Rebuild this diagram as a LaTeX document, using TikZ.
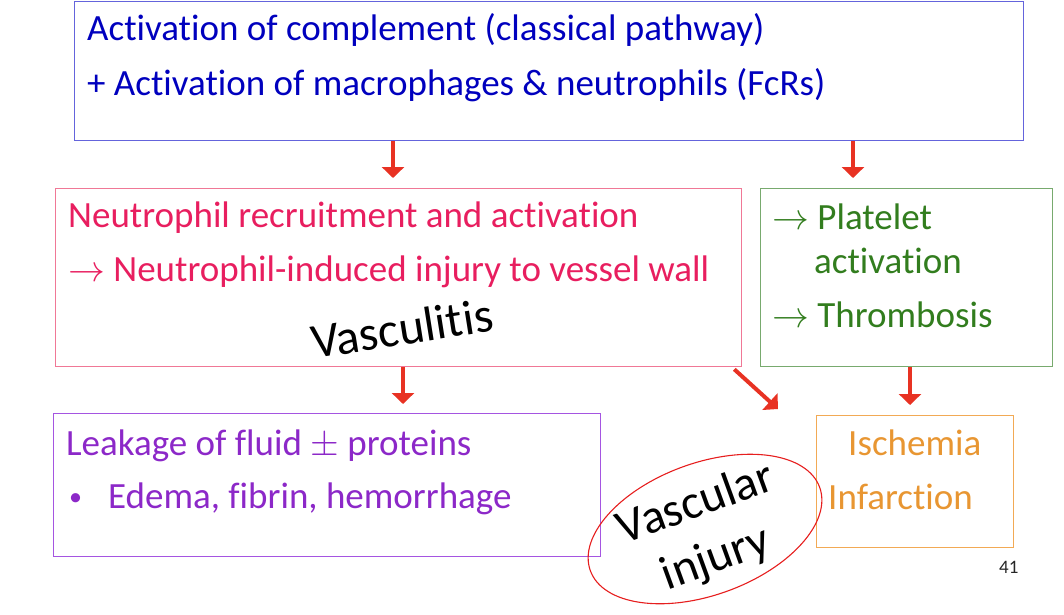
\documentclass[tikz,border=0pt]{standalone}
\usepackage{graphicx}
\usepackage{fontspec}
\setmainfont{Carlito}[Ligatures=NoCommon]
\usetikzlibrary{arrows.meta,shapes.geometric}
\newcommand\myarr{\scalebox{1.48}{$\rightarrow$}}
\newcommand\mypm{\scalebox{1.48}{$\pm$}}
\definecolor{tblue}{RGB}{0,0,190}
\definecolor{bblue}{RGB}{100,100,220}
\definecolor{tpink}{RGB}{232,30,95}
\definecolor{bpink}{RGB}{240,120,150}
\definecolor{tgreen}{RGB}{50,125,30}
\definecolor{bgreen}{RGB}{120,170,110}
\definecolor{tpurple}{RGB}{140,40,200}
\definecolor{bpurple}{RGB}{165,85,225}
\definecolor{torange}{RGB}{232,150,50}
\definecolor{borange}{RGB}{242,170,85}
\definecolor{arred}{RGB}{232,50,35}
\definecolor{ellred}{RGB}{230,30,30}
\tikzset{
  box/.style={draw, line width=1.3pt, inner sep=0pt, anchor=north west},
  txt/.style={anchor=base west, inner sep=0pt, font=\fontsize{37}{37}\selectfont},
  big/.style={inner sep=0pt, font=\fontsize{48}{58}\selectfont, text=black},
  arr/.style={draw=arred, line width=4pt, -{Triangle[width=22pt,length=11pt]}}
}
\begin{document}
\begin{tikzpicture}[x=1pt,y=-1pt]
\useasboundingbox (0,0) rectangle (1064,614);
% boxes
\node[box, draw=bblue, minimum width=949pt, minimum height=139pt] (top) at (74,1) {};
\node[box, draw=bpink, minimum width=686pt, minimum height=178pt] (pink) at (55,188) {};
\node[box, draw=bgreen, minimum width=292pt, minimum height=178pt] (green) at (760,188) {};
\node[box, draw=bpurple, minimum width=547pt, minimum height=143pt] (purple) at (53,413) {};
\node[box, draw=borange, minimum width=197pt, minimum height=132pt] (orange) at (816,415) {};
\node[draw=ellred, line width=1.1pt, ellipse, rotate=20, minimum width=244pt, minimum height=132pt, inner sep=0pt] (ell) at (705,529) {};
% texts
\node[txt, text=tblue] (t1) at (87,40) {Activation of complement (classical pathway)};
\node[txt, text=tblue] (t2) at (87,95) {+ Activation of macrophages \& neutrophils (FcRs)};
\node[txt, text=tpink] (p1) at (68,227) {Neutrophil recruitment and activation};
\node[txt, text=tpink] (p2) at (68,281) {\myarr\ Neutrophil-induced injury to vessel wall};
\node[big, rotate=9, font=\fontsize{49}{59}\selectfont] (vasc) at (402,328) {Vasculitis};
\node[txt, text=tgreen] (g1) at (772,229) {\myarr\ Platelet};
\node[txt, text=tgreen] (g2) at (814,273) {activation};
\node[txt, text=tgreen] (g3) at (772,327) {\myarr\ Thrombosis};
\node[txt, text=tpurple] (u1) at (66,455) {Leakage of fluid \mypm\ proteins};
\node[anchor=base west, inner sep=0pt, font=\fontsize{26}{26}\selectfont, text=tpurple] (u2) at (69,505) {•};
\node[txt, text=tpurple] (u3) at (108,508) {Edema, fibrin, hemorrhage};
\node[txt, text=torange] (o1) at (848,455) {Ischemia};
\node[txt, text=torange] (o2) at (828,509) {Infarction};
\node[big, rotate=20, align=center] (vi) at (706,532) {Vascular\\injury};
\node[anchor=base west, inner sep=0pt, font=\fontsize{19}{19}\selectfont, text=black!85] (num) at (999,573) {41};
% arrows
\coordinate (diagtip) at (778,409);
\draw[arr, shorten >=10pt] (top.south -| 393,0) -- (pink.north -| 393,0);
\draw[arr, shorten >=10pt] (top.south -| 853,0) -- (green.north -| 853,0);
\draw[arr, shorten >=9pt] (pink.south -| 403,0) -- (purple.north -| 403,0);
\draw[arr] ([xshift=-8pt,yshift=-2pt]pink.south east) -- (diagtip);
\draw[arr, shorten >=10pt] (green.south -| 910,0) -- (orange.north -| 910,0);
\end{tikzpicture}
\end{document}
